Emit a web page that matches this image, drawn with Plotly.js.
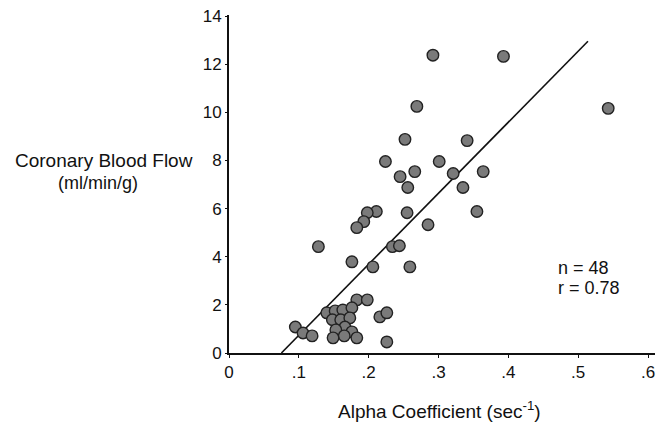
<!DOCTYPE html>
<html>
<head>
<meta charset="utf-8">
<script src="https://cdn.plot.ly/plotly-3.0.1.min.js"></script>
<style>html,body{margin:0;padding:0;background:#fff;}#chart{width:667px;height:429px;}</style>
</head>
<body>
<div id="chart"></div>
<script>
// Alpha coefficient (sec^-1)
const alphaCoef = [
  0.292, 0.393, 0.543, 0.269, 0.252, 0.341, 0.224, 0.301, 0.266, 0.321,
  0.364, 0.245, 0.256, 0.335, 0.211, 0.198, 0.193, 0.183, 0.255, 0.285,
  0.355, 0.234, 0.244, 0.128, 0.176, 0.206, 0.259, 0.095, 0.106, 0.119,
  0.183, 0.198, 0.216, 0.226, 0.226, 0.140, 0.152, 0.163, 0.176, 0.148,
  0.160, 0.173, 0.166, 0.153, 0.176, 0.165, 0.183, 0.149
];
// Coronary blood flow (ml/min/g)
const bloodFlow = [
  12.38, 12.33, 10.17, 10.25, 8.88, 8.83, 7.96, 7.96, 7.54, 7.46,
  7.54, 7.33, 6.88, 6.88, 5.88, 5.83, 5.46, 5.21, 5.83, 5.33,
  5.88, 4.42, 4.46, 4.42, 3.79, 3.58, 3.58, 1.08, 0.83, 0.71,
  2.21, 2.21, 1.50, 1.67, 0.46, 1.67, 1.75, 1.79, 1.88, 1.38,
  1.38, 1.46, 1.08, 0.96, 0.88, 0.71, 0.63, 0.63
];
// Regression line end points
const fitX = [0.075, 0.514];
const fitY = [0.0, 12.96];

const xTickVals = [0, 0.1, 0.2, 0.3, 0.4, 0.5, 0.6];
const xTickText = ['0', '.1', '.2', '.3', '.4', '.5', '.6'];
const yTickVals = [0, 2, 4, 6, 8, 10, 12, 14];
const yTickText = ['0', '2', '4', '6', '8', '10', '12', '14'];

const FONT = 'Liberation Sans, Arial, Helvetica, sans-serif';

const traces = [
  {
    x: fitX, y: fitY, type: 'scatter', mode: 'lines',
    line: {color: '#111', width: 1.6}, hoverinfo: 'skip'
  },
  {
    x: alphaCoef, y: bloodFlow, type: 'scatter', mode: 'markers',
    marker: {size: 11.5, color: '#7a7a7a', line: {color: '#222', width: 1.4}}
  }
];

const layout = {
  width: 667, height: 429,
  margin: {l: 229, r: 12, t: 15, b: 76},
  paper_bgcolor: '#fff', plot_bgcolor: '#fff',
  showlegend: false,
  font: {family: FONT, color: '#111', size: 17},
  xaxis: {
    range: [0, 0.61], showgrid: false, zeroline: false,
    showline: true, linecolor: '#111', linewidth: 2,
    ticks: 'outside', ticklen: 3, tickcolor: '#111',
    tickvals: xTickVals, ticktext: xTickText,
    tickfont: {family: FONT, size: 17, color: '#111'}
  },
  yaxis: {
    range: [0, 14.05], showgrid: false, zeroline: false,
    showline: true, linecolor: '#111', linewidth: 2,
    ticks: 'outside', ticklen: 2, tickcolor: '#111',
    tickvals: yTickVals, ticktext: yTickText,
    tickfont: {family: FONT, size: 17, color: '#111'}
  },
  annotations: [
    {xref: 'paper', yref: 'paper', x: (104 - 229) / 426, y: (353 - 160) / 338,
     text: 'Coronary Blood Flow', showarrow: false, xanchor: 'center', yanchor: 'middle',
     font: {family: FONT, size: 19, color: '#111'}},
    {xref: 'paper', yref: 'paper', x: (98 - 229) / 426, y: (353 - 183) / 338,
     text: '(ml/min/g)', showarrow: false, xanchor: 'center', yanchor: 'middle',
     font: {family: FONT, size: 18, color: '#111'}},
    {xref: 'paper', yref: 'paper', x: (439 - 229) / 426, y: (353 - 410) / 338,
     text: 'Alpha Coefficient (sec<sup>-1</sup>)', showarrow: false, xanchor: 'center', yanchor: 'middle',
     font: {family: FONT, size: 19, color: '#111'}},
    {xref: 'paper', yref: 'paper', x: (556 - 229) / 426, y: (353 - 268) / 338,
     text: 'n = 48', showarrow: false, xanchor: 'left', yanchor: 'middle',
     font: {family: FONT, size: 18, color: '#111'}},
    {xref: 'paper', yref: 'paper', x: (556 - 229) / 426, y: (353 - 288) / 338,
     text: 'r = 0.78', showarrow: false, xanchor: 'left', yanchor: 'middle',
     font: {family: FONT, size: 18, color: '#111'}}
  ]
};

Plotly.newPlot('chart', traces, layout, {displayModeBar: false, staticPlot: true});
</script>
</body>
</html>
